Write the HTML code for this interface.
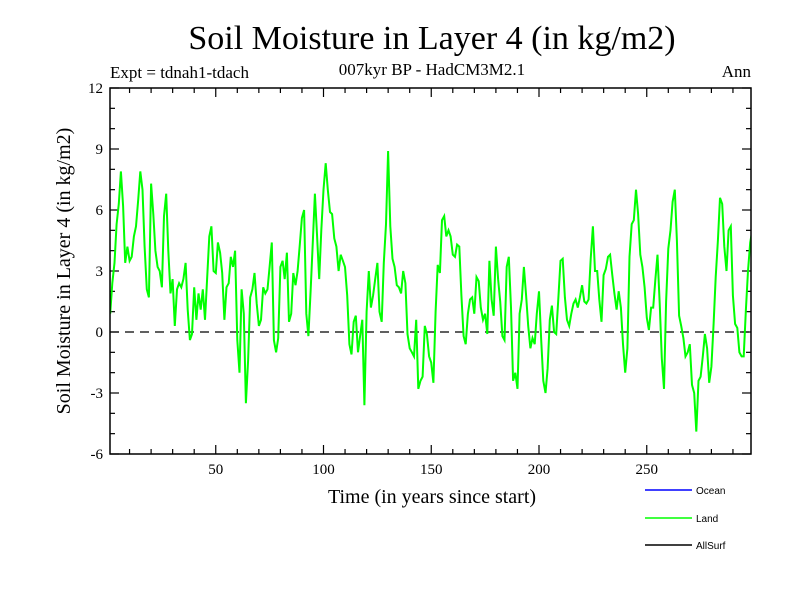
<!DOCTYPE html>
<html><head><meta charset="utf-8"><style>
html,body{margin:0;padding:0;background:#fff;width:800px;height:600px;overflow:hidden}
svg text{font-family:"Liberation Serif",serif}
</style></head><body>
<svg id="chart" width="800" height="600" xmlns="http://www.w3.org/2000/svg">
<text x="432" y="49" font-size="34" text-anchor="middle">Soil Moisture in Layer 4 (in kg/m2)</text>
<text x="432" y="75" font-size="17" text-anchor="middle">007kyr BP - HadCM3M2.1</text>
<text x="110" y="78" font-size="17">Expt = tdnah1-tdach</text>
<text x="751" y="77" font-size="17" text-anchor="end">Ann</text>
<text transform="translate(70,271) rotate(-90)" font-size="20" text-anchor="middle">Soil Moisture in Layer 4 (in kg/m2)</text>
<text x="432" y="503" font-size="20" text-anchor="middle">Time (in years since start)</text>
<defs><clipPath id="plotclip"><rect x="110" y="88" width="641" height="366"/></clipPath></defs>
<g id="axes"></g>
<g id="series" clip-path="url(#plotclip)"></g>
<rect x="110" y="88" width="641" height="366" fill="none" stroke="#000" stroke-width="1.5"/>
<g font-family="Liberation Sans, sans-serif">
<line x1="645" y1="490" x2="692" y2="490" stroke="#0000ff" stroke-width="1.5"/>
<text x="696" y="494" font-size="10" style="font-family:'Liberation Sans',sans-serif">Ocean</text>
<line x1="645" y1="518" x2="692" y2="518" stroke="#00ff00" stroke-width="1.5"/>
<text x="696" y="522" font-size="10" style="font-family:'Liberation Sans',sans-serif">Land</text>
<line x1="645" y1="545" x2="692" y2="545" stroke="#000" stroke-width="1.5"/>
<text x="696" y="549" font-size="10" style="font-family:'Liberation Sans',sans-serif">AllSurf</text>
</g>
</svg>
<script>
const startYear = 1;
const landValues = [0.9,2.4,3.4,5.3,6.3,7.9,6.2,3.4,4.2,3.5,3.7,4.7,5.2,6.5,7.9,7.0,4.2,2.1,1.7,7.3,5.8,4.0,3.2,3.0,2.2,5.7,6.8,4.0,1.9,2.6,0.3,2.1,2.4,2.2,2.6,3.4,1.1,-0.4,-0.1,2.2,0.6,1.9,1.1,2.1,0.6,2.6,4.7,5.2,3.0,2.9,4.4,3.9,2.9,0.6,2.2,2.4,3.7,3.2,4.0,-0.4,-2.0,2.1,0.9,-3.5,-1.4,1.7,2.1,2.9,1.4,0.3,0.6,2.2,1.9,2.1,3.2,4.4,
-0.4,-1.0,-0.3,3.2,3.5,2.6,3.9,0.5,0.9,2.9,2.3,3.0,4.3,5.6,6.0,0.9,-0.2,2.0,4.3,6.8,4.8,2.6,5.0,7.0,8.3,7.0,5.9,5.8,4.6,4.2,3.0,3.8,3.5,3.2,1.8,-0.6,-1.1,0.5,0.8,-1.0,-0.2,0.6,-3.6,1.0,3.0,1.2,1.8,2.6,3.4,1.0,0.5,3.4,5.3,8.9,5.2,3.6,3.2,2.3,2.2,1.9,3.0,2.4,-0.1,-0.8,-1.0,-1.2,0.6,-2.8,-2.4,-2.2,0.3,-0.1,-1.2,-1.5,
-2.5,1.0,3.3,2.9,5.5,5.7,4.7,5.0,4.7,3.8,3.7,4.3,4.2,1.8,-0.2,-0.6,0.9,1.6,1.7,0.9,2.7,2.5,1.2,0.6,0.9,-0.1,3.5,1.6,0.8,4.2,2.6,1.5,-0.2,-0.4,3.2,3.7,1.2,-2.4,-2.0,-2.8,0.9,1.6,3.2,1.8,0.3,-0.8,-0.3,-0.6,0.9,2.0,-0.4,-2.4,-3.0,-1.8,0.6,1.3,0.0,-0.1,1.7,3.5,3.6,1.7,0.6,0.3,0.9,1.4,1.6,1.2,1.7,2.3,1.5,1.4,1.6,3.6,5.2,
3.0,3.0,1.6,0.5,2.8,3.1,3.7,3.8,2.8,1.9,1.1,2.0,1.2,-0.6,-2.0,-0.8,3.7,5.3,5.5,7.0,5.8,3.8,3.2,2.2,0.7,0.1,1.2,1.2,2.6,3.8,1.4,-1.3,-2.8,1.5,4.1,5.0,6.4,7.0,4.5,0.8,0.3,-0.3,-1.2,-1.0,-0.6,-2.6,-3.0,-4.9,-2.4,-2.2,-1.2,-0.1,-0.8,-2.5,-1.7,0.4,2.7,4.5,6.6,6.3,4.2,3.0,5.0,5.2,1.8,0.4,0.2,-1.0,-1.2,-1.2,1.1,3.0,4.4,5.0];
const yTickLabels = [-6,-3,0,3,6,9,12];
const xTickLabels = [50,100,150,200,250];

const NS="http://www.w3.org/2000/svg";
const X0=110,X1=751,Y0=88,Y1=454;
function xScale(yr){return 108+yr*2.155;}
function yScale(v){return Y1-(v+6)/18*(Y1-Y0);}
function mk(tag,attrs,parent){const e=document.createElementNS(NS,tag);for(const k in attrs)e.setAttribute(k,attrs[k]);parent.appendChild(e);return e;}
const axes=document.getElementById('axes');
for(let v=-6;v<=12;v++){
  const y=yScale(v);const len=(v%3===0)?9:5;
  const t1=mk('line',{x1:X0,y1:y,x2:X0+len,y2:y,stroke:'#000','stroke-width':1.2},axes);
  
  
  const t2=mk('line',{x1:X1-len,y1:y,x2:X1,y2:y,stroke:'#000','stroke-width':1.2},axes);
  
  
}
yTickLabels.forEach(v=>{
  const t=mk('text',{x:X0-7,y:yScale(v)+5,'font-size':15,'text-anchor':'end'},axes);
  t.textContent=v;
  
  
});
for(let yr=10;yr<=290;yr+=10){
  const x=xScale(yr);const len=(yr%50===0)?9:5;
  const b=mk('line',{x1:x,y1:Y1,x2:x,y2:Y1-len,stroke:'#000','stroke-width':1.2},axes);
  
  
  const tp=mk('line',{x1:x,y1:Y0,x2:x,y2:Y0+len,stroke:'#000','stroke-width':1.2},axes);
  
  
}
xTickLabels.forEach(v=>{
  const t=mk('text',{x:xScale(v),y:Y1+20,'font-size':15,'text-anchor':'middle'},axes);
  t.textContent=v;
  
  
});
const zl=mk('line',{x1:X0,y1:yScale(0),x2:X1,y2:yScale(0),stroke:'#000','stroke-width':1.3,'stroke-dasharray':'9,6'},axes);


const series=document.getElementById('series');
const pts=landValues.map((v,i)=>xScale(startYear+i).toFixed(1)+','+yScale(v).toFixed(1)).join(' ');
const pl=mk('polyline',{points:pts,fill:'none',stroke:'#00ff00','stroke-width':2,'stroke-linejoin':'miter'},series);


</script>
</body></html>
